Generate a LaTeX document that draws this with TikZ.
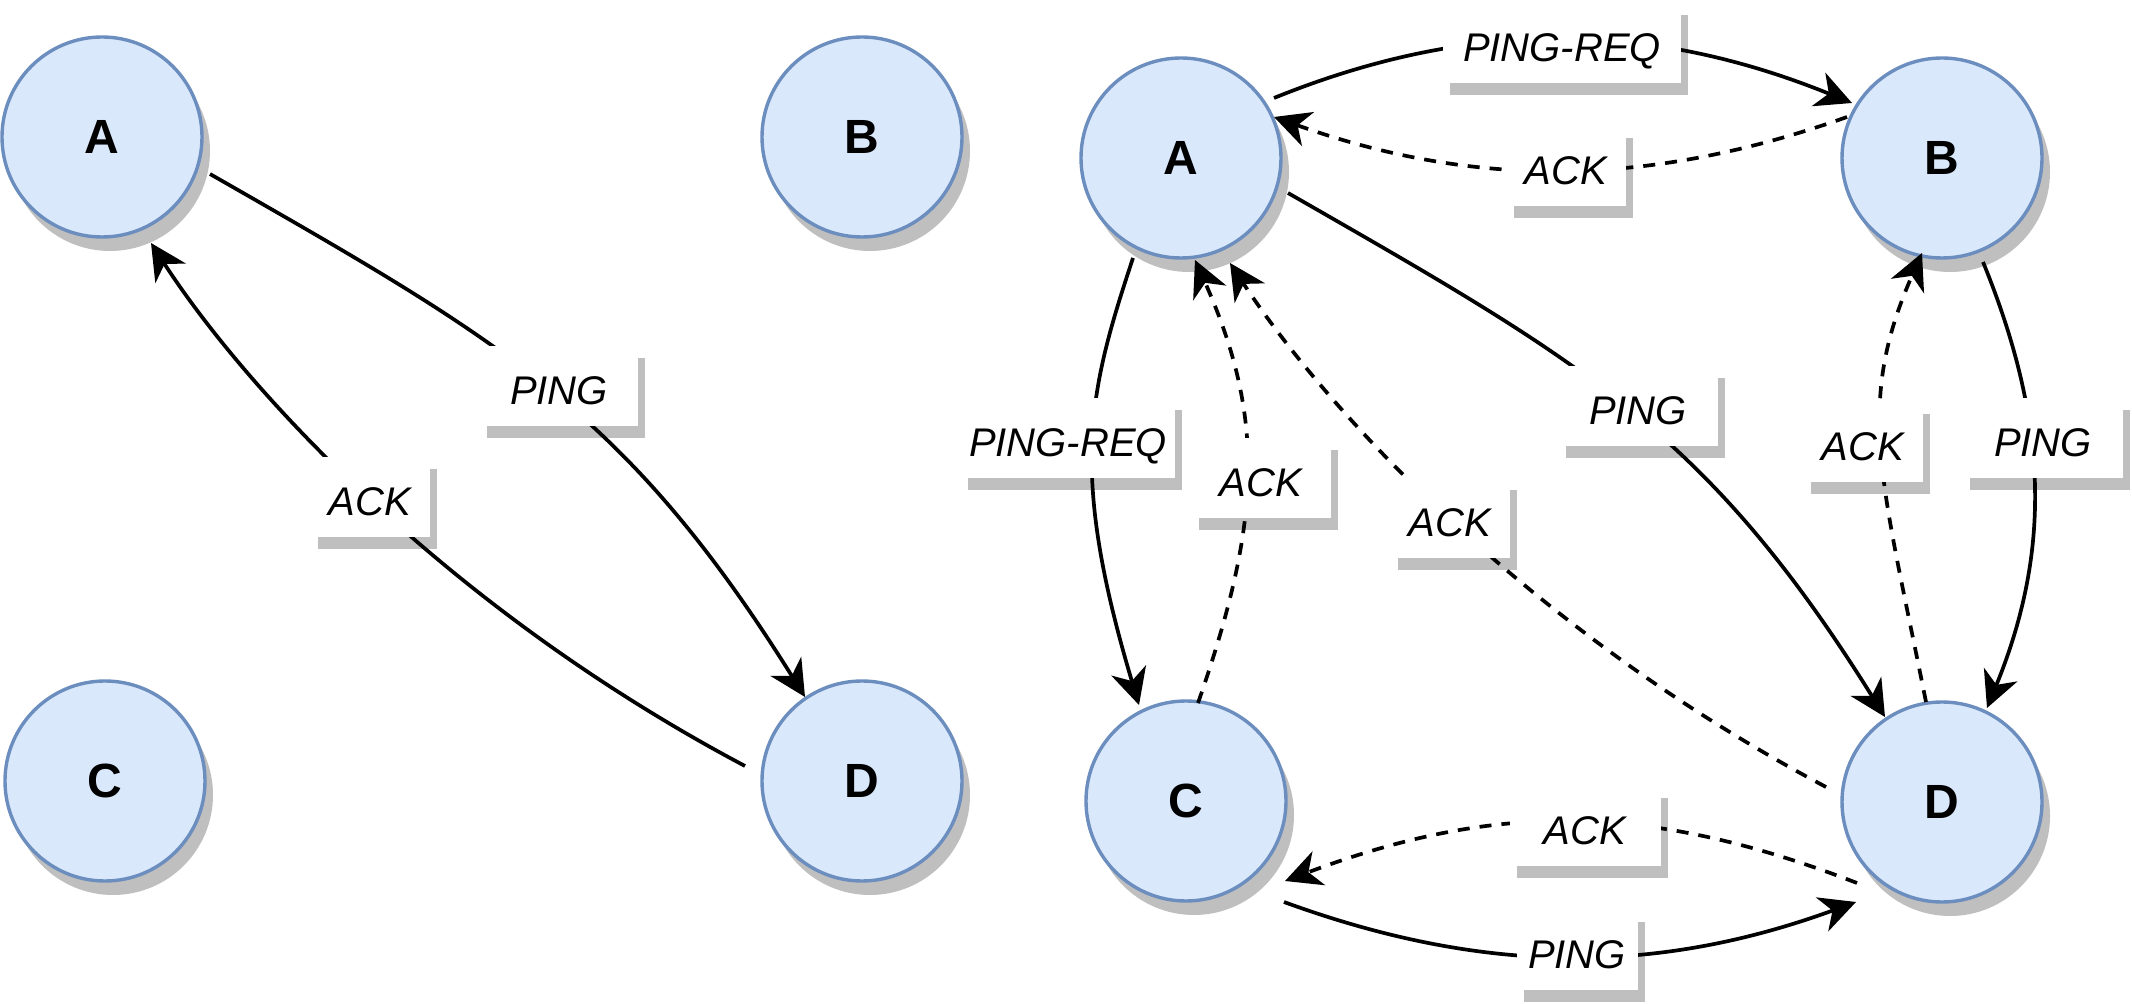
\documentclass[tikz,border=0pt]{standalone}
\usepackage{fontspec}
\setmainfont{Liberation Sans}
\usetikzlibrary{arrows.meta,calc,shadows}
\definecolor{nodefill}{HTML}{DAE8FC}
\definecolor{nodeline}{HTML}{6C8EBF}
\definecolor{shadowc}{HTML}{BFBFBF}
\pgfdeclarelayer{back}
\pgfsetlayers{back,main}
\begin{document}
\begin{tikzpicture}[x=0.5pt,y=-0.5pt,
  peer/.style={circle, minimum size=100pt, inner sep=0pt, fill=nodefill, draw=nodeline, line width=1.7pt,
    font=\fontsize{24}{28}\selectfont\bfseries,
    drop shadow={shadow xshift=4pt, shadow yshift=-7pt, fill=shadowc, opacity=1}},
  msg/.style={fill=white, inner sep=0pt, outer sep=0pt, minimum height=40pt, text height=18.3pt, text depth=0pt,
    font=\fontsize{20}{24}\selectfont\itshape},
  link/.style={line width=1.85pt, -{Stealth[length=18pt,width=18pt,inset=5.5pt]}},
  reply/.style={link, dash pattern=on 6pt off 5pt},
]
\useasboundingbox (0,0) rectangle (2132,1004);
\begin{pgfonlayer}{back}
  \fill[white] (0,0) rectangle (2132,1004);
\end{pgfonlayer}

% left diagram
\node[peer] (la) at (102,137) {A};
\node[peer] (lb) at (862,137) {B};
\node[peer] (lc) at (105,781) {C};
\node[peer] (ld) at (862,781) {D};
% right diagram
\node[peer] (ra) at (1181,158) {A};
\node[peer] (rb) at (1942,158) {B};
\node[peer] (rc) at (1186,801) {C};
\node[peer] (rd) at (1942,802) {D};

% left edges
\draw[link] ($(la.center)+(108,37)$) .. controls (500,340) and (625,409) .. ($(ld.center)+(-57,-84)$);
\draw[link] ($(ld.center)+(-117,-15)$) .. controls (441,605) and (242,384) .. ($(la.center)+(49,106)$);

% right edges
\draw[link] ($(ra.center)+(93,-60)$) .. controls (1474,17) and (1652,22) .. ($(rb.center)+(-90,-55)$);
\draw[reply] ($(rb.center)+(-95,-41)$) .. controls (1647,188) and (1474,188) .. ($(ra.center)+(93,-41)$);
\draw[link] ($(ra.center)+(107,35)$) .. controls (1581,361) and (1706,430) .. ($(rd.center)+(-57,-85)$);
\draw[reply] ($(rd.center)+(-116,-15)$) .. controls (1522,626) and (1323,405) .. ($(ra.center)+(49,105)$);
\draw[reply] ($(rc.center)+(12,-98)$) .. controls (1260,525) and (1267,421) .. ($(ra.center)+(14,102)$);
\draw[link] ($(ra.center)+(-48,100)$) .. controls (1088,394) and (1069,471) .. ($(rc.center)+(-47,-96)$);
\draw[reply] ($(rd.center)+(-16,-100)$) .. controls (1881,477) and (1855,405) .. ($(rb.center)+(-20,95)$);
\draw[link] ($(rb.center)+(41,104)$) .. controls (2048,421) and (2052,549) .. ($(rd.center)+(45,-94)$);
\draw[reply] ($(rd.center)+(-85,81)$) .. controls (1647,802) and (1495,802) .. ($(rc.center)+(99,80)$);
\draw[link] ($(rc.center)+(98,101)$) .. controls (1484,975) and (1656,975) .. ($(rd.center)+(-86,100)$);

% labels
\node[msg, minimum width=79pt]   (m1)  at (559,386)  {PING};
\node[msg, minimum width=59.5pt] (m2)  at (370,497)  {ACK};
\node[msg, minimum width=119pt]  (m3)  at (1562,43)  {PING-REQ};
\node[msg, minimum width=59.5pt] (m4)  at (1566,166) {ACK};
\node[msg, minimum width=107pt]  (m5)  at (1068,438) {PING-REQ};
\node[msg, minimum width=69.5pt] (m6)  at (1261,478) {ACK};
\node[msg, minimum width=79.5pt] (m7)  at (1638,406) {PING};
\node[msg, minimum width=59.5pt] (m8)  at (1450,518) {ACK};
\node[msg, minimum width=59.5pt] (m9)  at (1863,442) {ACK};
\node[msg, minimum width=80pt]   (m10) at (2043,438) {PING};
\node[msg, minimum width=75.5pt] (m11) at (1585,826) {ACK};
\node[msg, minimum width=60.5pt] (m12) at (1577,950) {PING};

\begin{pgfonlayer}{back}
  \foreach \m in {m1,m2,m3,m4,m5,m6,m7,m8,m9,m10,m11,m12}
    \fill[shadowc] ([shift={(7,12)}]\m.south west) rectangle ([shift={(7,12)}]\m.north east);
\end{pgfonlayer}
\end{tikzpicture}
\end{document}
